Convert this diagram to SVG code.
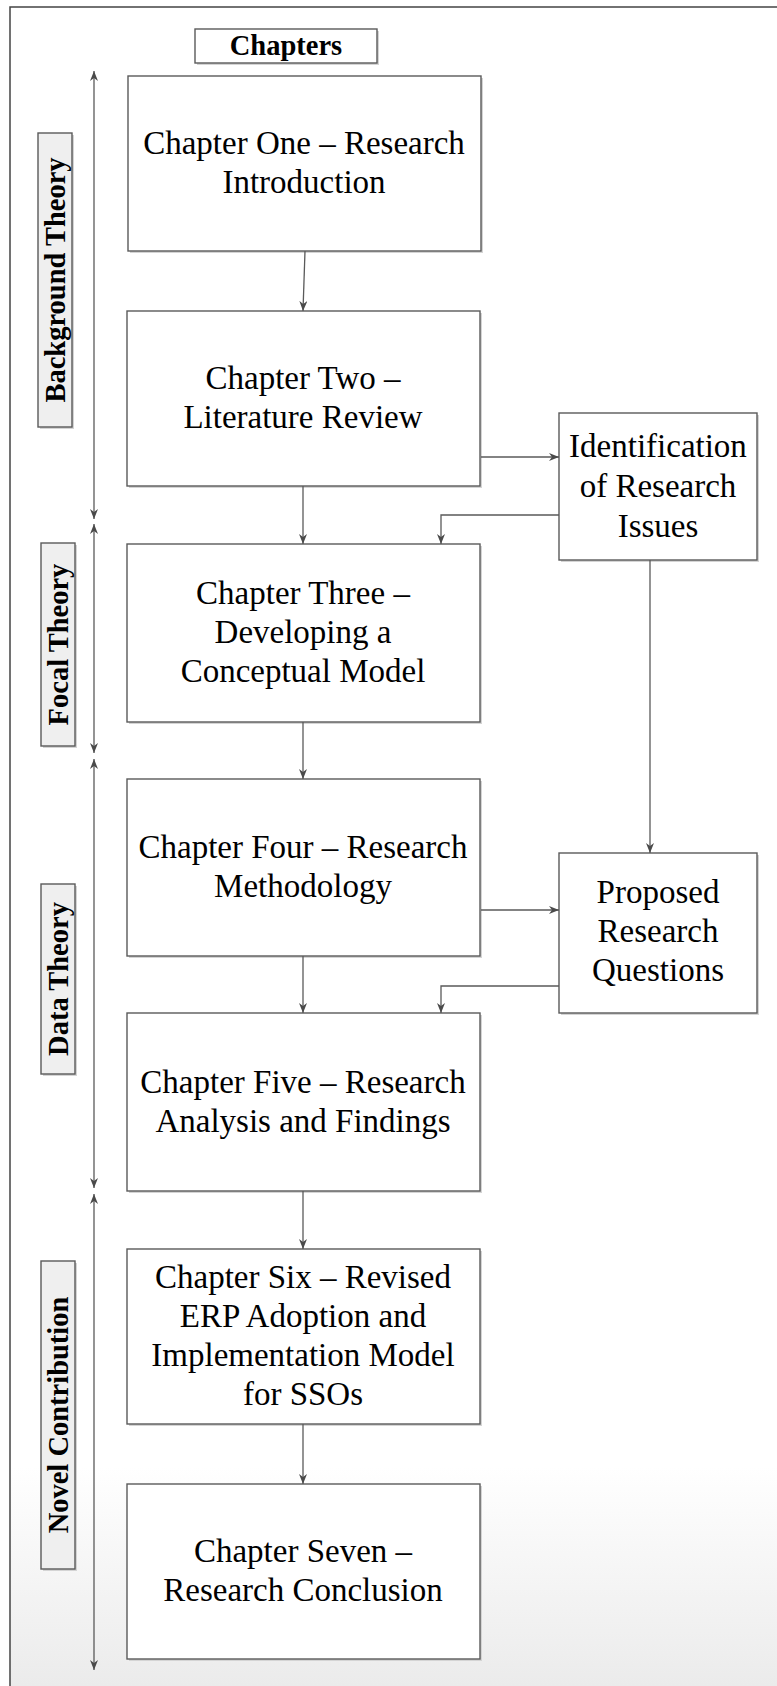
<svg xmlns="http://www.w3.org/2000/svg" width="777" height="1686" viewBox="0 0 777 1686">
  <defs>
    <linearGradient id="pageFill" x1="0" y1="0" x2="0" y2="1686" gradientUnits="userSpaceOnUse">
      <stop offset="0" stop-color="#ffffff"/>
      <stop offset="0.87" stop-color="#ffffff"/>
      <stop offset="1" stop-color="#ebebeb"/>
    </linearGradient>
    <marker id="arrow" viewBox="0 0 10 8" refX="10" refY="4" markerWidth="10" markerHeight="8" markerUnits="userSpaceOnUse" orient="auto-start-reverse">
      <path d="M0,0 L10,4 L0,8 L3,4 z" fill="#4a4a4a"/>
    </marker>
  </defs>
  <style>
    .box { fill: #ffffff; stroke: #5a5a5a; stroke-width: 1.4; }
    .tag { fill: #efefef; stroke: #5a5a5a; stroke-width: 1.4; }
    .shadow { fill: #d4d4d4; }
    .txt { font-family: "Liberation Serif", "Times New Roman", serif; font-size: 33px; fill: #000; text-anchor: middle; }
    .bold { font-family: "Liberation Serif", "Times New Roman", serif; font-size: 28.5px; font-weight: bold; fill: #000; text-anchor: middle; }
    .link { fill: none; stroke: #5a5a5a; stroke-width: 1.3; }
  </style>

  <!-- page frame -->
  <rect x="0" y="0" width="777" height="1686" fill="#ffffff"/>
  <rect x="10" y="7" width="800" height="1700" fill="url(#pageFill)" stroke="#444444" stroke-width="1.5"/>

  <!-- heading -->
  <g id="heading">
    <rect class="shadow" x="197" y="31" width="182" height="34"/>
    <rect class="box" x="195" y="29" width="182" height="34"/>
    <text class="bold" x="286" y="55">Chapters</text>
  </g>

  <!-- phase labels on the left -->
  <g id="label-background">
    <rect class="shadow" x="40" y="135" width="34" height="294"/>
    <rect class="tag" x="38" y="133" width="34" height="294"/>
    <text class="bold" transform="translate(65,280) rotate(-90)">Background Theory</text>
  </g>
  <g id="label-focal">
    <rect class="shadow" x="43" y="545" width="34" height="203"/>
    <rect class="tag" x="41" y="543" width="34" height="203"/>
    <text class="bold" transform="translate(68,644.5) rotate(-90)">Focal Theory</text>
  </g>
  <g id="label-data">
    <rect class="shadow" x="43" y="886" width="34" height="190"/>
    <rect class="tag" x="41" y="884" width="34" height="190"/>
    <text class="bold" transform="translate(68,979) rotate(-90)">Data Theory</text>
  </g>
  <g id="label-novel">
    <rect class="shadow" x="43" y="1263" width="34" height="308"/>
    <rect class="tag" x="41" y="1261" width="34" height="308"/>
    <text class="bold" transform="translate(68,1415) rotate(-90)">Novel Contribution</text>
  </g>

  <!-- chapter boxes -->
  <g id="ch1">
    <rect class="shadow" x="130" y="78" width="353" height="175"/>
    <rect class="box" x="128" y="76" width="353" height="175"/>
    <text class="txt" x="304" y="154">Chapter One – Research</text>
    <text class="txt" x="304" y="193">Introduction</text>
  </g>
  <g id="ch2">
    <rect class="shadow" x="129" y="313" width="353" height="175"/>
    <rect class="box" x="127" y="311" width="353" height="175"/>
    <text class="txt" x="303" y="389">Chapter Two –</text>
    <text class="txt" x="303" y="428">Literature Review</text>
  </g>
  <g id="issues">
    <rect class="shadow" x="561" y="415" width="198" height="147"/>
    <rect class="box" x="559" y="413" width="198" height="147"/>
    <text class="txt" x="658" y="457">Identification</text>
    <text class="txt" x="658" y="497">of Research</text>
    <text class="txt" x="658" y="537">Issues</text>
  </g>
  <g id="ch3">
    <rect class="shadow" x="129" y="546" width="353" height="178"/>
    <rect class="box" x="127" y="544" width="353" height="178"/>
    <text class="txt" x="303" y="604">Chapter Three –</text>
    <text class="txt" x="303" y="643">Developing a</text>
    <text class="txt" x="303" y="682">Conceptual Model</text>
  </g>
  <g id="ch4">
    <rect class="shadow" x="129" y="781" width="353" height="177"/>
    <rect class="box" x="127" y="779" width="353" height="177"/>
    <text class="txt" x="303" y="858">Chapter Four – Research</text>
    <text class="txt" x="303" y="897">Methodology</text>
  </g>
  <g id="questions">
    <rect class="shadow" x="561" y="855" width="198" height="160"/>
    <rect class="box" x="559" y="853" width="198" height="160"/>
    <text class="txt" x="658" y="903">Proposed</text>
    <text class="txt" x="658" y="942">Research</text>
    <text class="txt" x="658" y="981">Questions</text>
  </g>
  <g id="ch5">
    <rect class="shadow" x="129" y="1015" width="353" height="178"/>
    <rect class="box" x="127" y="1013" width="353" height="178"/>
    <text class="txt" x="303" y="1093">Chapter Five – Research</text>
    <text class="txt" x="303" y="1132">Analysis and Findings</text>
  </g>
  <g id="ch6">
    <rect class="shadow" x="129" y="1251" width="353" height="175"/>
    <rect class="box" x="127" y="1249" width="353" height="175"/>
    <text class="txt" x="303" y="1288">Chapter Six – Revised</text>
    <text class="txt" x="303" y="1327">ERP Adoption and</text>
    <text class="txt" x="303" y="1366">Implementation Model</text>
    <text class="txt" x="303" y="1405">for SSOs</text>
  </g>
  <g id="ch7">
    <rect class="shadow" x="129" y="1486" width="353" height="175"/>
    <rect class="box" x="127" y="1484" width="353" height="175"/>
    <text class="txt" x="303" y="1562">Chapter Seven –</text>
    <text class="txt" x="303" y="1601">Research Conclusion</text>
  </g>

  <!-- connectors -->
  <g id="connectors">
    <!-- phase spans -->
    <line class="link" x1="94" y1="71" x2="94" y2="519" marker-start="url(#arrow)" marker-end="url(#arrow)"/>
    <line class="link" x1="94" y1="524" x2="94" y2="753" marker-start="url(#arrow)" marker-end="url(#arrow)"/>
    <line class="link" x1="94" y1="759" x2="94" y2="1188" marker-start="url(#arrow)" marker-end="url(#arrow)"/>
    <line class="link" x1="94" y1="1194" x2="94" y2="1670" marker-start="url(#arrow)" marker-end="url(#arrow)"/>

    <!-- chapter flow -->
    <line class="link" x1="305" y1="251" x2="303" y2="311" marker-end="url(#arrow)"/>
    <line class="link" x1="303" y1="486" x2="303" y2="544" marker-end="url(#arrow)"/>
    <line class="link" x1="303" y1="722" x2="303" y2="779" marker-end="url(#arrow)"/>
    <line class="link" x1="303" y1="956" x2="303" y2="1013" marker-end="url(#arrow)"/>
    <line class="link" x1="303" y1="1191" x2="303" y2="1249" marker-end="url(#arrow)"/>
    <line class="link" x1="303" y1="1424" x2="303" y2="1484" marker-end="url(#arrow)"/>

    <!-- side boxes -->
    <line class="link" x1="481" y1="457" x2="559" y2="457" marker-end="url(#arrow)"/>
    <polyline class="link" points="559,515 441,515 441,544" marker-end="url(#arrow)"/>
    <line class="link" x1="650" y1="560" x2="650" y2="853" marker-end="url(#arrow)"/>
    <line class="link" x1="481" y1="910" x2="559" y2="910" marker-end="url(#arrow)"/>
    <polyline class="link" points="559,986 441,986 441,1013" marker-end="url(#arrow)"/>
  </g>
</svg>
